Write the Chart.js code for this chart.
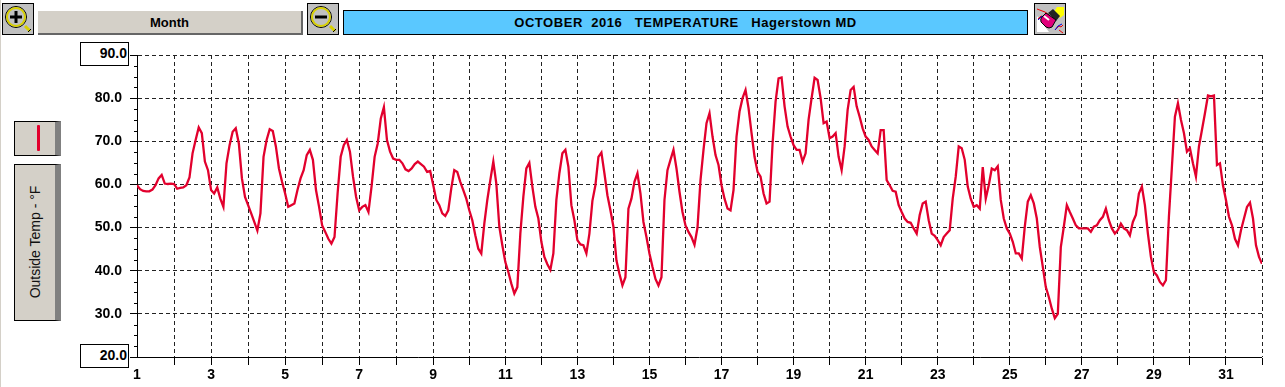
<!DOCTYPE html>
<html>
<head>
<meta charset="utf-8">
<title>October 2016 Temperature</title>
<script src="https://cdn.jsdelivr.net/npm/chart.js@4"></script>
<style>
    html, body { margin: 0; padding: 0; background: #fff; overflow: hidden; }
    body { width: 1285px; height: 387px; position: relative; font-family: "Liberation Sans", sans-serif; }
    #chartWrap { position: absolute; left: 0; top: 0; width: 1285px; height: 387px; }
    .strip { position: absolute; left: 0; top: 0; width: 1px; height: 387px; background: #d4d0c8; }
    .box { position: absolute; box-sizing: border-box; }
    .iconBtn { width: 32px; height: 32px; top: 3px; border: 1px solid #000; background: #c0c0c0; }
    .iconBtn svg { display: block; }
    #monthBtn { left: 38px; top: 11px; width: 265px; height: 24px; background: #d4d0c8; border-right: 2px solid #666; border-bottom: 2px solid #666; text-align: center; font-weight: bold; font-size: 13px; line-height: 23px; }
    #titleBar { left: 343px; top: 10px; width: 685px; height: 25px; background: #5ac8ff; border: 1px solid #000; text-align: center; font-weight: bold; font-size: 13px; letter-spacing: 0.55px; line-height: 23px; white-space: pre; }
    .side { left: 14px; width: 47px; background: #d4d0c8; border: 1px solid #000; border-right: 6px solid #808080; }
    #legendBtn { top: 121px; height: 35px; }
    #legendBtn i { position: absolute; left: 22px; top: 3px; width: 3px; height: 26px; background: #e2002d; border-radius: 1px; }
    #unitBtn { top: 164px; height: 157px; }
    #unitBtn span { position: absolute; left: 20px; top: 77px; transform: translate(-50%, -50%) rotate(-90deg); white-space: nowrap; font-size: 14px; color: #111; }
    .endBox { left: 80px; width: 49px; height: 24px; border: 1px solid #000; background: #fff; font-weight: bold; font-size: 14px; text-align: right; padding-right: 1px; line-height: 20px; }
</style>
</head>
<body>
<div class="strip"></div>
<div id="chartWrap"><canvas id="tempChart"></canvas></div>

<div class="box iconBtn" style="left:2px">
    <svg width="30" height="30"><circle cx="13" cy="13" r="10.5" fill="#c0c0c0" stroke="#000" stroke-width="1"/><circle cx="13" cy="13" r="9" fill="none" stroke="#d8d000" stroke-width="2"/><path d="M7 13h12M13 7v12" stroke="#000" stroke-width="3"/><path d="M22 22l5 5" stroke="#d8d000" stroke-width="3"/><path d="M25 28l3-3" stroke="#000" stroke-width="1"/></svg>
</div>
<div class="box" id="monthBtn">Month</div>
<div class="box iconBtn" style="left:307px">
    <svg width="30" height="30"><circle cx="13" cy="13" r="10.5" fill="#c0c0c0" stroke="#000" stroke-width="1"/><circle cx="13" cy="13" r="9" fill="none" stroke="#d8d000" stroke-width="2"/><path d="M7 13h12" stroke="#000" stroke-width="3"/><path d="M22 22l5 5" stroke="#d8d000" stroke-width="3"/><path d="M25 28l3-3" stroke="#000" stroke-width="1"/></svg>
</div>
<div class="box" id="titleBar">OCTOBER  2016   TEMPERATURE   Hagerstown MD</div>
<div class="box iconBtn" style="left:1034px">
    <svg width="30" height="30"><path d="M2 28V12L14 28z" fill="#fff"/><path d="M2 5l8 3 4 3M3 15l3-3 3 1M20 26l4-4 2 1 2-2M24 26l4 3" fill="none" stroke="#e00" stroke-width="1"/><path d="M3 16l4-4 3 2M20 26l3-4 4-2" fill="none" stroke="#00d" stroke-width="1"/><path d="M22 3h7v8l-4 3-6-6z" fill="#ff0"/><path d="M13 9l5-4 7 7-4 5z" fill="#222"/><path d="M11 9l10 7-4 7q-3 2-6 0l-5-5q-1-3 1-5z" fill="#e0007a" stroke="#000" stroke-width="1"/><path d="M9 12l5 4" stroke="#fff" stroke-width="2"/></svg>
</div>

<div class="box side" id="legendBtn"><i></i></div>
<div class="box side" id="unitBtn"><span>Outside Temp - °F</span></div>

<div class="box endBox" style="top:42px">90.0</div>
<div class="box endBox" style="top:344px">20.0</div>

<script>
// temperature readings, one row per day, 12 readings a day
const temps = [
    59.8, 58.9, 58.5, 58.4, 58.4, 58.8, 59.8, 61.4, 62.2, 60.2, 60.1, 60.2,
    60.1, 59.0, 59.2, 59.3, 59.8, 61.6, 67.2, 70.3, 73.2, 71.9, 65.3, 63.3,
    58.7, 57.9, 59.3, 56.7, 54.8, 64.9, 69.1, 72.2, 73.0, 69.5, 61.4, 57.1,
    55.2, 53.3, 51.3, 49.3, 53.3, 66.4, 70.3, 72.8, 72.4, 68.8, 63.7, 60.6,
    57.9, 54.8, 55.2, 55.6, 58.7, 61.4, 63.3, 66.8, 68.0, 65.7, 58.7, 54.8,
    50.5, 49.0, 47.4, 46.3, 47.8, 57.9, 66.4, 69.1, 70.3, 67.6, 61.8, 57.1,
    54.0, 54.8, 55.2, 53.6, 59.5, 66.4, 69.5, 75.3, 77.9, 70.3, 67.6, 66.0,
    65.7, 65.7, 64.9, 63.5, 63.1, 63.7, 64.7, 65.3, 64.7, 64.1, 62.9, 63.1,
    59.8, 56.4, 55.2, 53.3, 52.7, 54.0, 59.1, 63.3, 62.9, 60.6, 58.7, 56.7,
    54.0, 51.7, 48.2, 45.1, 44.0, 50.9, 56.4, 61.0, 65.3, 60.2, 50.2, 45.9,
    42.0, 39.7, 37.0, 34.7, 36.2, 48.6, 57.1, 63.7, 65.0, 59.5, 54.8, 52.1,
    46.7, 43.2, 41.5, 40.2, 44.0, 56.4, 62.6, 67.2, 68.0, 64.1, 55.2, 51.7,
    47.1, 46.1, 45.9, 44.0, 48.6, 56.2, 59.8, 66.4, 67.4, 62.6, 57.5, 54.0,
    50.2, 42.4, 39.3, 36.6, 38.5, 54.4, 56.7, 60.6, 62.6, 57.9, 51.3, 47.8,
    44.0, 40.9, 38.1, 36.6, 38.5, 56.4, 63.3, 65.7, 68.0, 63.7, 58.3, 53.6,
    50.5, 49.0, 47.8, 46.0, 50.0, 61.0, 68.0, 74.2, 76.5, 71.1, 66.8, 64.5,
    59.8, 56.7, 54.4, 54.0, 58.7, 71.1, 76.9, 80.0, 81.9, 77.7, 71.9, 66.4,
    62.9, 61.8, 57.9, 55.6, 56.0, 69.5, 79.2, 84.6, 84.8, 78.1, 73.4, 71.1,
    69.1, 68.0, 68.0, 65.3, 67.2, 75.0, 80.0, 84.7, 84.2, 80.0, 74.2, 74.6,
    70.7, 71.1, 71.9, 66.4, 63.3, 68.8, 77.3, 81.9, 82.6, 78.1, 75.7, 73.0,
    71.1, 70.3, 68.8, 68.0, 67.2, 72.6, 72.6, 61.0, 59.8, 58.5, 58.3, 55.2,
    53.6, 52.1, 51.3, 51.1, 49.8, 48.6, 52.9, 55.6, 56.0, 51.7, 48.6, 48.1,
    47.1, 45.9, 47.8, 48.6, 49.4, 56.7, 61.8, 68.8, 68.4, 65.7, 59.5, 56.7,
    54.8, 55.2, 54.4, 64.0, 56.7, 59.8, 63.7, 63.3, 64.2, 56.4, 52.1, 49.8,
    48.6, 46.7, 44.0, 44.0, 42.8, 50.2, 56.0, 57.5, 55.6, 52.1, 45.5, 40.9,
    36.2, 33.9, 31.2, 29.0, 30.0, 45.5, 50.2, 55.2, 53.6, 52.1, 50.5, 49.8,
    49.8, 49.8, 49.8, 49.0, 50.2, 50.5, 51.7, 52.5, 54.4, 51.7, 49.8, 48.6,
    49.4, 50.9, 49.8, 49.4, 48.2, 51.3, 52.9, 57.9, 59.5, 55.2, 48.6, 43.2,
    39.7, 38.9, 37.4, 36.6, 37.8, 52.5, 64.1, 75.7, 78.8, 75.0, 71.9, 67.6,
    68.4, 64.9, 61.8, 68.8, 72.6, 76.5, 80.6, 80.4, 80.6, 64.5, 64.9, 59.8,
    56.4, 52.5, 50.5, 47.4, 45.9, 49.4, 52.1, 54.8, 55.8, 52.1, 45.9, 43.2,
    41.6
];
const readingsPerDay = 12;
const firstDay = 1;
const lastDay = 32;
const minTemp = 20;
const maxTemp = 90;
const tempStep = 2.5;
const lineColor = '#e2002d';
const gridColor = '#222';

// the old program rounds day widths: the first 8 days are a bit wider than the rest
const wideDays = 8;
const wideWidth = 37;
const narrowWidth = 36;

function dayOffset(day) {
    const d = day - firstDay;
    if (d <= wideDays) return d * wideWidth;
    return wideDays * wideWidth + (d - wideDays) * narrowWidth;
}

class DayScale extends Chart.LinearScale {
    getPixelForValue(value) {
        return this.getPixelForDecimal(dayOffset(value) / dayOffset(lastDay));
    }
}
DayScale.id = 'day';
DayScale.defaults = Chart.LinearScale.defaults;
Chart.register(DayScale);

function isMajorTemp(value) {
    return value % 10 === 0;
}

// short ticks between the tens, Chart.js only has one tick length
const minorTicks = {
    id: 'minorTicks',
    afterDraw(chart) {
        const y = chart.scales.y;
        const ctx = chart.ctx;
        ctx.save();
        ctx.strokeStyle = '#000';
        ctx.lineWidth = 1;
        y.ticks.forEach(t => {
            if (isMajorTemp(t.value)) return;
            const py = Math.round(y.getPixelForValue(t.value)) + 0.5;
            ctx.beginPath();
            ctx.moveTo(y.right - 3, py);
            ctx.lineTo(y.right, py);
            ctx.stroke();
        });
        ctx.restore();
    }
};

const points = temps.map((t, i) => ({ x: firstDay + i / readingsPerDay, y: t }));

new Chart(document.getElementById('tempChart').getContext('2d'), {
    type: 'line',
    data: {
        datasets: [{
            label: 'Outside Temp',
            data: points,
            borderColor: lineColor,
            borderWidth: 2.3,
            pointRadius: 0,
            tension: 0,
            fill: false
        }]
    },
    options: {
        responsive: true,
        maintainAspectRatio: false,
        animation: false,
        layout: { padding: { top: 55, right: 23, left: 0, bottom: 0 } },
        plugins: { legend: { display: false }, tooltip: { enabled: false } },
        scales: {
            x: {
                type: 'day',
                min: firstDay,
                max: lastDay,
                afterFit: scale => { scale.height = 30; },
                border: { display: true, color: '#000', width: 1, dash: [4, 3] },
                grid: {
                    color: gridColor,
                    tickColor: '#000',
                    tickLength: 8,
                    tickBorderDash: [],
                    lineWidth: ctx => ctx.tick && ctx.tick.value === firstDay ? 0 : 1
                },
                ticks: {
                    stepSize: 1,
                    autoSkip: false,
                    maxRotation: 0,
                    color: '#000',
                    padding: 2,
                    font: { family: 'Liberation Sans', size: 14, weight: 'bold' },
                    callback: value => value % 2 === 1 && value < lastDay ? String(value) : ''
                }
            },
            y: {
                min: minTemp,
                max: maxTemp,
                afterFit: scale => { scale.width = 137; },
                border: { display: true, color: '#000', width: 1, dash: [4, 3] },
                grid: {
                    color: ctx => ctx.tick && isMajorTemp(ctx.tick.value) && ctx.tick.value > minTemp ? gridColor : 'transparent',
                    tickColor: ctx => ctx.tick && isMajorTemp(ctx.tick.value) ? '#000' : 'transparent',
                    tickLength: 7,
                    tickBorderDash: []
                },
                ticks: {
                    stepSize: tempStep,
                    autoSkip: false,
                    color: '#000',
                    padding: 8,
                    font: { family: 'Liberation Sans', size: 14, weight: 'bold' },
                    callback: value => isMajorTemp(value) && value > minTemp && value < maxTemp ? value.toFixed(1) : ''
                }
            }
        }
    },
    plugins: [minorTicks]
});
</script>
</body>
</html>
